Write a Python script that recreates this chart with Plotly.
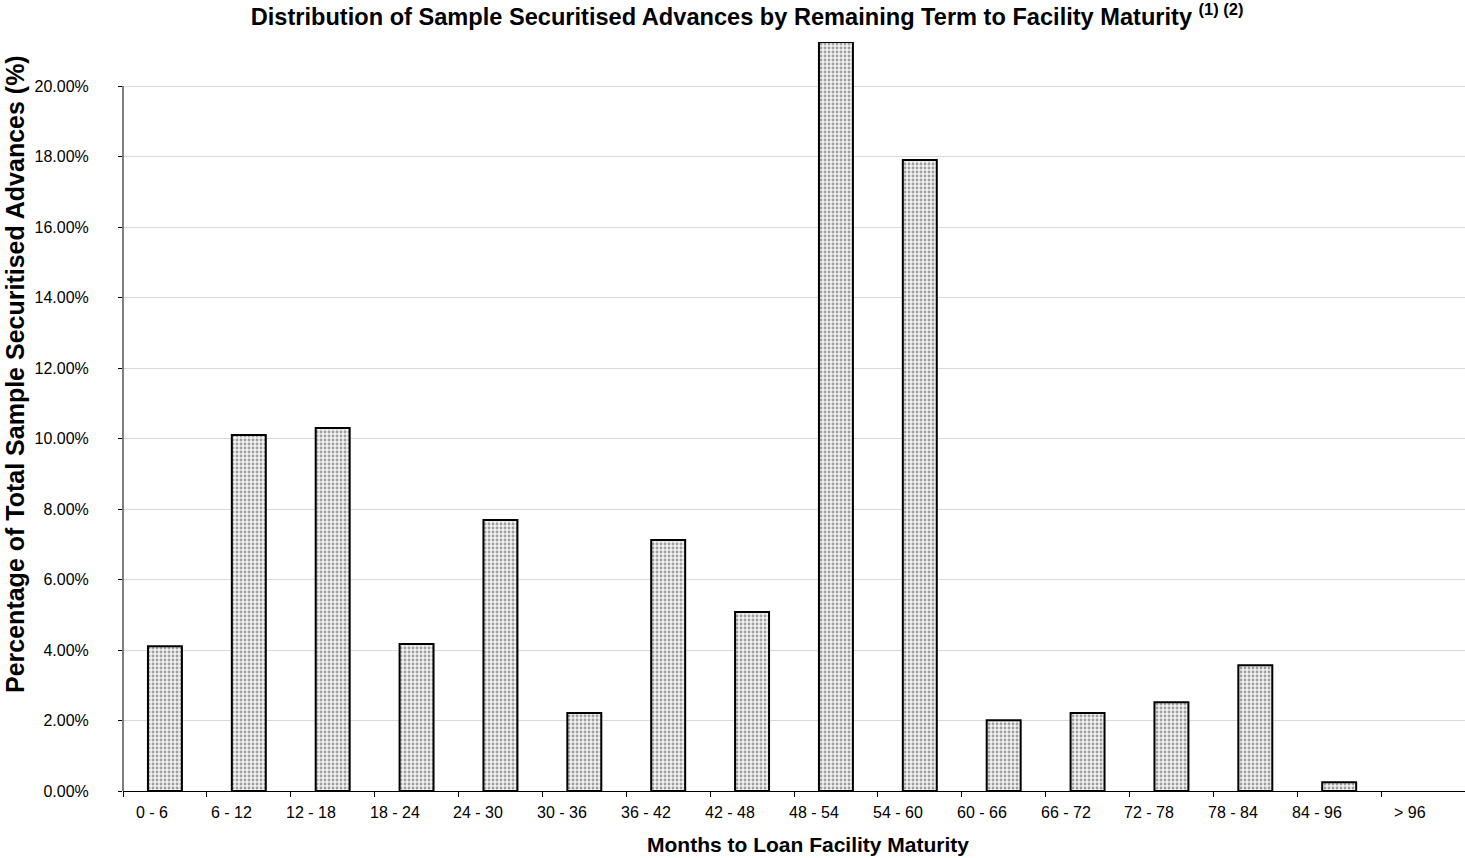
import plotly.graph_objects as go

categories = ["0 - 6", "6 - 12", "12 - 18", "18 - 24", "24 - 30", "30 - 36", "36 - 42", "42 - 48",
              "48 - 54", "54 - 60", "60 - 66", "66 - 72", "72 - 78", "78 - 84", "84 - 96", "> 96"]
values = [0.0411, 0.1010, 0.1030, 0.0417, 0.0769, 0.0221, 0.0712, 0.0508,
          0.2125, 0.1790, 0.0201, 0.0221, 0.0252, 0.0357, 0.0025, 0.0]
tick_vals = [0.0, 0.02, 0.04, 0.06, 0.08, 0.10, 0.12, 0.14, 0.16, 0.18, 0.20]
tick_text = ["0.00%", "2.00%", "4.00%", "6.00%", "8.00%", "10.00%", "12.00%", "14.00%", "16.00%", "18.00%", "20.00%"]

FONT = "Liberation Sans, Arial, sans-serif"

outline_widths = [2 if v > 0 else 0 for v in values]

fig = go.Figure(go.Bar(
    x=categories, y=values, width=0.405,
    marker=dict(color="white", line=dict(color="black", width=outline_widths),
                pattern=dict(shape=".", fgcolor="#4a4a4a", bgcolor="#f2f2f2", size=4, solidity=0.4)),
    hoverinfo="x+y",
))

fig.update_layout(
    width=1465, height=858,
    margin=dict(l=123, r=0, t=42, b=67),
    paper_bgcolor="white", plot_bgcolor="white",
    font=dict(family=FONT, size=16, color="black"),
    showlegend=False,
    title=dict(text="<b>Distribution of Sample Securitised Advances by Remaining Term to Facility Maturity <sup>(1) (2)</sup></b>",
               x=0.51, xanchor="center", y=0.99, yanchor="top", font=dict(size=23.6, family=FONT)),
)
fig.update_xaxes(
    type="category", showline=True, linecolor="black", linewidth=1,
    ticks="outside", tickson="boundaries", ticklen=5, tickcolor="black",
    showgrid=False, showticklabels=False,
)
fig.update_yaxes(
    range=[0, 0.2125], tickvals=tick_vals, ticktext=tick_text,
    showline=False, ticks="outside", ticklen=4, tickcolor="black",
    showgrid=True, gridcolor="#d9d9d9", gridwidth=1, zeroline=False,
    tickfont=dict(size=16), ticklabelstandoff=26,
)
# y axis line spanning 0% to 20%
fig.add_shape(type="line", xref="paper", yref="y", x0=0, x1=0, y0=0, y1=0.20,
              line=dict(color="black", width=1))

# category labels (right-aligned near category centre, as in the reference)
for c in categories:
    fig.add_annotation(x=c, y=0, xref="x", yref="y", text=c, showarrow=False,
                       xanchor="right", yanchor="middle", xshift=5, yshift=-21,
                       font=dict(size=16, family=FONT))

# axis titles
fig.add_annotation(text="<b>Months to Loan Facility Maturity</b>", xref="paper", yref="paper",
                   x=0.5104, y=-0.0708, showarrow=False, xanchor="center", yanchor="middle",
                   font=dict(size=21, family=FONT))
fig.add_annotation(text="<b>Percentage of Total Sample Securitised Advances (%)</b>", xref="paper", yref="paper",
                   x=-0.0805, y=0.5567, showarrow=False, xanchor="center", yanchor="middle", textangle=-90,
                   font=dict(size=25, family=FONT))

fig.write_html("out.html")
